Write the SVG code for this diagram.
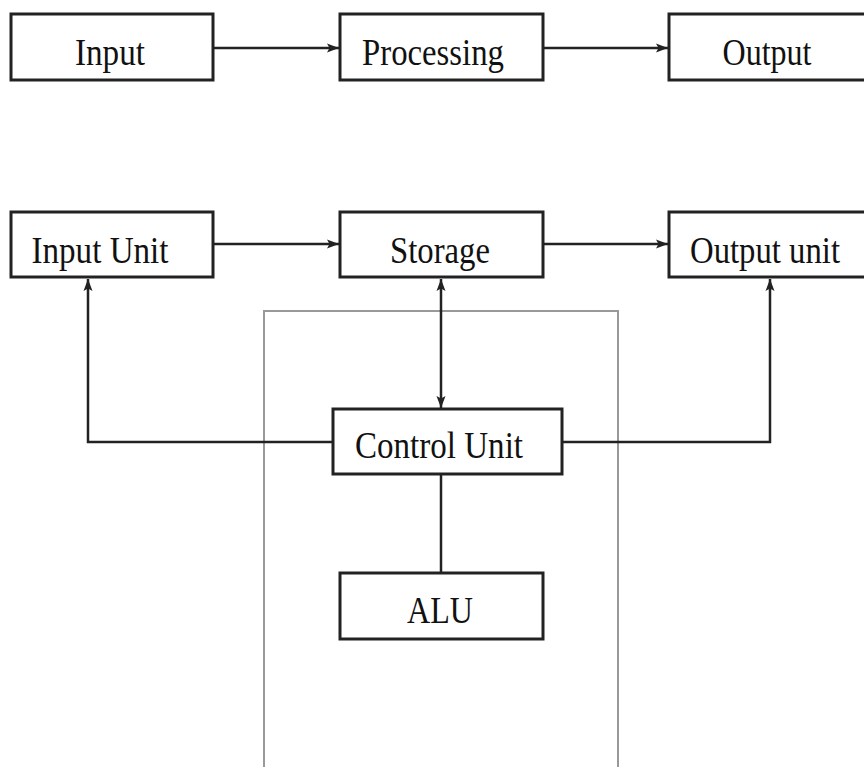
<svg xmlns="http://www.w3.org/2000/svg" width="864" height="767" viewBox="0 0 864 767">
<style>
.box{fill:#fff;stroke:#222;stroke-width:3}
.frame{fill:none;stroke:#999;stroke-width:2}
.lbl{font-family:"Liberation Serif","Times New Roman",serif;font-size:38px;fill:#111;text-anchor:middle}
.c{fill:none;stroke:#222;stroke-width:2.5}
</style>
<defs>
<marker id="ah" viewBox="0 0 12 10" refX="12" refY="5" markerWidth="12" markerHeight="10" markerUnits="userSpaceOnUse" orient="auto-start-reverse">
<path d="M0,0.5 L12,5 L0,9.5 L2.5,5 z" fill="#222"/>
</marker>
</defs>
<rect width="864" height="767" fill="#fff"/>
<rect id="cpu-frame" class="frame" x="264" y="311" width="354" height="470"/>
<g id="connectors">
<line class="c" x1="213" y1="48" x2="339" y2="48" marker-end="url(#ah)"/>
<line class="c" x1="543" y1="48" x2="668" y2="48" marker-end="url(#ah)"/>
<line class="c" x1="213" y1="244" x2="339" y2="244" marker-end="url(#ah)"/>
<line class="c" x1="543" y1="244" x2="668" y2="244" marker-end="url(#ah)"/>
<line class="c" x1="441" y1="279" x2="441" y2="408" marker-start="url(#ah)" marker-end="url(#ah)"/>
<polyline class="c" points="333,442 88,442 88,279" marker-end="url(#ah)"/>
<polyline class="c" points="562,442 770,442 770,279" marker-end="url(#ah)"/>
<line class="c" x1="441" y1="474" x2="441" y2="573"/>
</g>
<g id="input"><rect class="box" x="11" y="14" width="202" height="66"/><text class="lbl" x="110" y="65" textLength="70" lengthAdjust="spacingAndGlyphs">Input</text></g>
<g id="processing"><rect class="box" x="340" y="14" width="203" height="66"/><text class="lbl" x="433" y="65" textLength="142" lengthAdjust="spacingAndGlyphs">Processing</text></g>
<g id="output"><rect class="box" x="669" y="14" width="210" height="66"/><text class="lbl" x="767" y="65" textLength="89" lengthAdjust="spacingAndGlyphs">Output</text></g>
<g id="input-unit"><rect class="box" x="11" y="212" width="202" height="65"/><text class="lbl" x="100" y="263" textLength="137" lengthAdjust="spacingAndGlyphs">Input Unit</text></g>
<g id="storage"><rect class="box" x="340" y="212" width="203" height="65"/><text class="lbl" x="440" y="263" textLength="100" lengthAdjust="spacingAndGlyphs">Storage</text></g>
<g id="output-unit"><rect class="box" x="669" y="212" width="210" height="65"/><text class="lbl" x="765" y="263" textLength="150" lengthAdjust="spacingAndGlyphs">Output unit</text></g>
<g id="control-unit"><rect class="box" x="333" y="409" width="229" height="65"/><text class="lbl" x="439" y="458" textLength="168" lengthAdjust="spacingAndGlyphs">Control Unit</text></g>
<g id="alu"><rect class="box" x="340" y="573" width="203" height="66"/><text class="lbl" x="440" y="623" textLength="66" lengthAdjust="spacingAndGlyphs">ALU</text></g>
</svg>
